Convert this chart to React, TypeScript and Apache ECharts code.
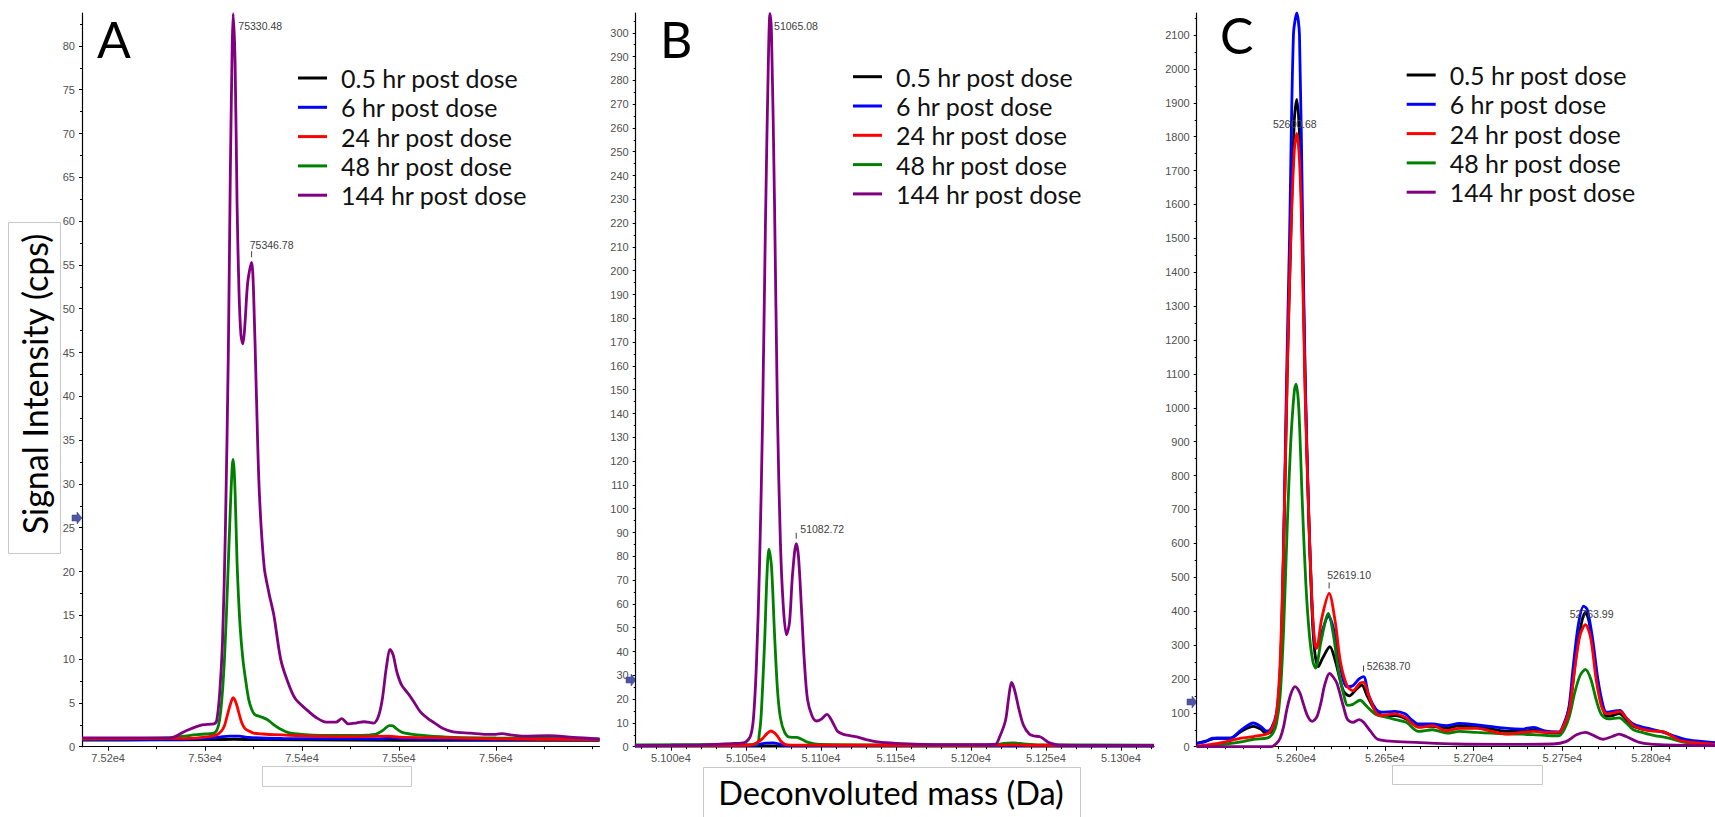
import React, { useEffect, useRef } from "react";
import * as echarts from "echarts";

const SERIES_NAMES = ["0.5 hr post dose", "6 hr post dose", "24 hr post dose", "48 hr post dose", "144 hr post dose"];
const SERIES_COLORS = ["#000000", "#0000ff", "#ff0000", "#008000", "#800080"];

// ---------- Panel A ----------
const A_X_LABELS = [75200, 75300, 75400, 75500, 75600];
const A_X_MINOR = [75200, 75250, 75300, 75350, 75400, 75450, 75500, 75550, 75600, 75650, 75700];
const A_Y_LABELS = [0, 5, 10, 15, 20, 25, 30, 35, 40, 45, 50, 55, 60, 65, 70, 75, 80];
const A_05 = [[75173, 0.75], [75250, 0.78], [75300, 0.8], [75330, 0.85], [75360, 0.8], [75450, 0.75], [75550, 0.72], [75707, 0.72]];
const A_6 = [[75173, 0.8], [75280, 0.85], [75300, 0.95], [75315, 1.1], [75325, 1.2], [75335, 1.2], [75345, 1.05], [75380, 0.95], [75480, 0.9], [75493, 1.0], [75505, 0.9], [75600, 0.82], [75707, 0.78]];
const A_24 = [[75173, 0.9], [75280, 0.95], [75300, 1.1], [75312, 1.35], [75317, 1.8], [75320, 2.4], [75323, 3.6], [75326, 4.8], [75329, 5.6], [75332, 5.0], [75335, 3.8], [75338, 2.7], [75341, 2.1], [75345, 1.8], [75350, 1.55], [75360, 1.45], [75371, 1.37], [75400, 1.25], [75450, 1.15], [75490, 1.2], [75500, 1.1], [75550, 1.0], [75600, 0.9], [75707, 0.8]];
const A_48 = [[75173, 0.9], [75260, 1.0], [75285, 1.3], [75300, 1.45], [75310, 1.6], [75314, 2.5], [75317, 5], [75320, 10], [75323, 18], [75326, 27], [75328, 32], [75329, 32.8], [75331, 29], [75333, 21], [75336, 14], [75339, 10], [75342, 7.5], [75345, 5.4], [75348, 4.3], [75351, 3.7], [75358, 3.4], [75364, 3.1], [75371, 2.5], [75378, 2.0], [75386, 1.6], [75400, 1.4], [75420, 1.3], [75460, 1.3], [75475, 1.4], [75484, 1.9], [75490, 2.4], [75493, 2.4], [75498, 2.0], [75504, 1.6], [75519, 1.35], [75550, 1.1], [75600, 1.0], [75650, 0.95], [75707, 0.85]];
const A_144 = [[75173, 1.0], [75230, 1.0], [75264, 1.0], [75280, 1.8], [75297, 2.5], [75309, 2.6], [75312, 3], [75315, 6], [75318, 12], [75321, 25], [75324, 45], [75326, 65], [75328, 80], [75329, 83.7], [75331, 78], [75333, 62], [75335, 52], [75337, 47], [75339, 46], [75341, 48], [75344, 53], [75348, 55.3], [75350, 52], [75353, 40], [75356, 29], [75361, 20.5], [75366, 17.5], [75371, 15], [75378, 10], [75385, 7.5], [75393, 5.5], [75405, 4.2], [75415, 3.3], [75425, 2.8], [75435, 2.8], [75441, 3.2], [75448, 2.6], [75456, 2.7], [75464, 2.85], [75474, 2.7], [75479, 3.5], [75483, 5.5], [75487, 9], [75491, 11.1], [75494, 10.5], [75498, 8.5], [75503, 7], [75510, 6], [75515, 5.2], [75522, 4], [75530, 3.2], [75537, 2.7], [75545, 2.1], [75556, 1.7], [75574, 1.55], [75590, 1.4], [75600, 1.4], [75607, 1.5], [75615, 1.35], [75629, 1.2], [75655, 1.25], [75680, 1.05], [75707, 0.9]];

// ---------- Panel B ----------
const B_X_LABELS = [51000, 51050, 51100, 51150, 51200, 51250, 51300];
const B_X_MINOR = [50980, 50990, 51000, 51010, 51020, 51030, 51040, 51050, 51060, 51070, 51080, 51090, 51100, 51110, 51120, 51130, 51140, 51150, 51160, 51170, 51180, 51190, 51200, 51210, 51220, 51230, 51240, 51250, 51260, 51270, 51280, 51290, 51300, 51310, 51320];
const B_Y_LABELS = [0, 10, 20, 30, 40, 50, 60, 70, 80, 90, 100, 110, 120, 130, 140, 150, 160, 170, 180, 190, 200, 210, 220, 230, 240, 250, 260, 270, 280, 290, 300];
const B_05 = [[50976, 0.3], [51100, 0.3], [51200, 0.3], [51322, 0.3]];
const B_6 = [[50976, 0.4], [51055, 0.45], [51059, 1.0], [51063, 1.5], [51068, 1.6], [51072, 1.2], [51076, 0.5], [51322, 0.4]];
const B_24 = [[50976, 0.5], [51050, 0.6], [51055, 1.0], [51058, 2.0], [51061, 3.4], [51064, 5.5], [51066.6, 6.6], [51069, 5.8], [51071, 4.4], [51073.5, 2.2], [51076, 1.0], [51080, 0.7], [51200, 0.6], [51228, 0.8], [51240, 0.6], [51322, 0.5]];
const B_48 = [[50976, 0.8], [51040, 0.9], [51057, 1.0], [51059, 6], [51060, 12], [51061, 24], [51062.5, 45], [51064, 72], [51065.3, 83], [51067, 76], [51069, 48], [51071, 24], [51073, 12], [51075.8, 6], [51079, 4], [51084, 3.9], [51088, 2.8], [51092, 1.7], [51099, 1.0], [51150, 0.8], [51215, 0.8], [51222, 1.4], [51228, 1.6], [51235, 1.2], [51245, 0.8], [51322, 0.7]];
const B_144 = [[50976, 0.5], [51000, 0.6], [51020, 0.8], [51030, 1.0], [51040, 1.3], [51049, 1.7], [51053, 4.5], [51055, 12], [51057, 35], [51059, 75], [51061, 135], [51063, 220], [51065, 290], [51066, 308], [51067, 300], [51069, 230], [51071, 140], [51073, 85], [51075, 58], [51077, 47], [51079, 52], [51081, 72], [51083.5, 85.3], [51085, 80], [51087, 58], [51089, 35], [51091, 20], [51094, 13], [51097, 10.8], [51100, 11.5], [51104, 13.6], [51108, 10], [51111, 6.5], [51115, 5.2], [51120, 4.6], [51124, 4.1], [51130, 3.0], [51138, 2.0], [51150, 1.4], [51167, 1.0], [51190, 0.9], [51216, 1.0], [51219, 4], [51223, 11], [51225, 20], [51227, 27], [51229, 24], [51232, 15.7], [51235, 9], [51239, 5.2], [51242, 4.5], [51246, 4.2], [51249, 3], [51252, 1.7], [51259, 0.6], [51280, 0.5], [51322, 0.5]];

// ---------- Panel C ----------
const C_X_LABELS = [52600, 52650, 52700, 52750, 52800];
const C_X_MINOR = [52550, 52560, 52570, 52580, 52590, 52600, 52610, 52620, 52630, 52640, 52650, 52660, 52670, 52680, 52690, 52700, 52710, 52720, 52730, 52740, 52750, 52760, 52770, 52780, 52790, 52800, 52810, 52820, 52830];
const C_Y_LABELS = [0, 100, 200, 300, 400, 500, 600, 700, 800, 900, 1000, 1100, 1200, 1300, 1400, 1500, 1600, 1700, 1800, 1900, 2000, 2100];
const C_05 = [[52544, 10], [52550, 18], [52555, 25], [52563, 25], [52569, 45], [52576, 60], [52580, 52], [52583, 39], [52586, 44], [52589, 90], [52591, 200], [52593, 600], [52595, 1100], [52597, 1500], [52599, 1850], [52600.4, 1910], [52602, 1800], [52603.5, 1500], [52605.2, 1050], [52607, 700], [52609, 400], [52610.5, 280], [52612.5, 236], [52615, 262], [52619, 295], [52622, 255], [52626.6, 165], [52630, 150], [52634, 170], [52637, 182], [52640, 150], [52645, 105], [52650, 92], [52656, 92], [52662, 82], [52669, 60], [52677, 60], [52685, 55], [52692, 62], [52702, 58], [52710, 52], [52719, 45], [52727, 45], [52735, 50], [52741, 42], [52748, 40], [52752, 80], [52755, 150], [52758, 280], [52761, 370], [52763, 396], [52765, 370], [52768, 260], [52771, 160], [52775, 90], [52778, 92], [52782, 98], [52786, 80], [52790, 60], [52795, 52], [52800, 48], [52807, 44], [52813, 30], [52820, 18], [52836, 8]];
const C_6 = [[52544, 10], [52549, 15], [52553, 25], [52563, 25], [52569, 49], [52576, 70], [52580, 60], [52583.5, 46], [52586, 54], [52589, 100], [52591, 220], [52592.5, 450], [52594.5, 1050], [52596.3, 1500], [52598.5, 2100], [52600.4, 2165], [52601.9, 2100], [52603.8, 1500], [52605.1, 1100], [52606.5, 800], [52608, 550], [52610, 320], [52611.5, 292], [52614, 330], [52618.2, 385], [52621, 350], [52624, 260], [52628.6, 177], [52632, 180], [52635.5, 200], [52638, 207], [52641, 150], [52645, 110], [52648, 102], [52655.6, 104], [52661.4, 97], [52665, 80], [52669, 67], [52677, 67], [52684.5, 62], [52692, 69], [52702, 64], [52709, 60], [52719, 54], [52727, 52], [52734, 57], [52740, 47], [52748, 44], [52751, 70], [52753.6, 112], [52756, 230], [52759, 360], [52762, 415], [52764, 405], [52767, 320], [52770, 200], [52773, 120], [52775, 102], [52779, 105], [52782.4, 107], [52786, 85], [52790, 67], [52795, 58], [52800, 52], [52807, 42], [52814, 30], [52821, 20], [52836, 12]];
const C_24 = [[52544, 2], [52556, 10], [52569, 25], [52576, 30], [52584, 39], [52587, 60], [52589, 100], [52591, 250], [52593, 600], [52595, 1100], [52597, 1500], [52599, 1760], [52600.4, 1810], [52602, 1720], [52603.3, 1500], [52605, 1060], [52607, 700], [52609, 420], [52610.5, 310], [52611.5, 290], [52614.5, 380], [52618.6, 452], [52622, 370], [52625, 250], [52628.7, 180], [52632, 165], [52636, 188], [52638, 190], [52641, 150], [52645, 100], [52648, 92], [52655.6, 97], [52661.4, 87], [52665, 70], [52669, 57], [52677, 62], [52684.5, 47], [52692, 54], [52702, 54], [52709, 47], [52719, 37], [52727, 42], [52734, 45], [52740, 42], [52748, 42], [52751, 65], [52754, 110], [52757, 230], [52760, 330], [52763, 360], [52766, 320], [52769, 200], [52772, 120], [52775, 97], [52779, 100], [52782.4, 104], [52786, 85], [52790, 62], [52795, 52], [52800, 47], [52807, 44], [52812, 30], [52817, 17], [52836, 7]];
const C_48 = [[52544, 0], [52560, 8], [52570, 15], [52576, 22], [52584, 26], [52587, 40], [52589, 70], [52591, 150], [52593, 350], [52595, 650], [52597, 900], [52599, 1050], [52600, 1070], [52601.5, 1000], [52603.5, 720], [52605.5, 480], [52607.5, 330], [52609.5, 250], [52611, 232], [52614, 310], [52618.2, 393], [52621, 330], [52624, 220], [52627, 150], [52629, 122], [52632, 125], [52636, 137], [52640, 118], [52645, 95], [52650, 88], [52656, 80], [52662, 72], [52669, 45], [52677, 50], [52685, 40], [52692, 45], [52702, 42], [52710, 40], [52719, 38], [52727, 37], [52735, 35], [52742, 33], [52748, 32], [52751, 50], [52754, 90], [52757, 160], [52760, 210], [52763, 228], [52766, 200], [52769, 140], [52772, 95], [52776, 82], [52782, 85], [52786, 70], [52790, 50], [52795, 42], [52800, 35], [52810, 25], [52820, 12], [52836, 5]];
const C_144 = [[52544, 0], [52586, 0], [52589, 10], [52591, 25], [52593, 60], [52594.7, 108], [52597, 155], [52599.4, 177], [52602, 160], [52604, 128], [52606.5, 90], [52609, 75], [52611.7, 88], [52614, 130], [52616, 180], [52618.8, 216], [52621, 205], [52623, 187], [52626.7, 118], [52629, 80], [52632, 72], [52635.5, 80], [52638, 72], [52642, 45], [52646, 22], [52655, 16], [52670, 12], [52690, 8], [52720, 7], [52745, 8], [52752, 15], [52758, 35], [52763, 42], [52768, 32], [52773, 22], [52778, 30], [52782, 37], [52786, 30], [52794, 12], [52805, 6], [52836, 3]];

// peak annotations: [panel, seriesIndex, x, y, text, dx, dy, tick]
const PEAK_LABELS: [number, number, number, number, string, number, number, boolean][] = [
  [0, 4, 75329, 83.7, "75330.48", 27, 12, false],
  [0, 4, 75348, 55.3, "75346.78", 20, -17, true],
  [1, 4, 51066, 308, "51065.08", 26, 12, false],
  [1, 4, 51083.5, 85.3, "51082.72", 26, -15, true],
  [2, 0, 52600.4, 1910, "52600.68", -2, 25, false],
  [2, 2, 52618.6, 452, "52619.10", 20, -19, true],
  [2, 1, 52638, 207, "52638.70", 25, -11, true],
  [2, 1, 52762, 415, "52763.99", 8, 8, false],
];

const PANELS = [
  { xMin: 75173, xMax: 75707, yMax: 83.76, xLabels: A_X_LABELS, xMinor: A_X_MINOR, yLabels: A_Y_LABELS, yStep: 5, digits: 2, data: [A_05, A_6, A_24, A_48, A_144] },
  { xMin: 50976.5, xMax: 51322, yMax: 308.3, xLabels: B_X_LABELS, xMinor: B_X_MINOR, yLabels: B_Y_LABELS, yStep: 10, digits: 3, data: [B_05, B_6, B_24, B_48, B_144] },
  { xMin: 52544, xMax: 52836, yMax: 2165, xLabels: C_X_LABELS, xMinor: C_X_MINOR, yLabels: C_Y_LABELS, yStep: 100, digits: 3, data: [C_05, C_6, C_24, C_48, C_144] },
];

const GRIDS = [
  { left: 82, top: 13, width: 517.5, height: 733.7 },
  { left: 635.7, top: 13, width: 518.3, height: 733.7 },
  { left: 1196.7, top: 13, width: 518.3, height: 733.7 },
];
const LEGEND_POS = [
  { left: 298, top: 65.5 },
  { left: 853, top: 64.2 },
  { left: 1406.7, top: 62.5 },
];
const PANEL_LETTERS = [
  { text: "A", x: 97, y: 14 },
  { text: "B", x: 660, y: 14 },
  { text: "C", x: 1220, y: 10 },
];
const ARROWS = [
  { x: 73, y: 518 },
  { x: 627, y: 680 },
  { x: 1188, y: 702 },
];

const DRAW_ORDER = [0, 1, 3, 2, 4];
const TICK_FONT = "'Liberation Sans', Arial, sans-serif";
const TEXT_FONT = "Lato, 'Open Sans', sans-serif";

export default function App() {
  const ref = useRef<HTMLDivElement>(null);
  useEffect(() => {
    document.body.style.margin = "0";
    const chart = echarts.init(ref.current!, null, { renderer: "svg" });
    const xAxis: any[] = [];
    const yAxis: any[] = [];
    const series: any[] = [];
    PANELS.forEach((p, i) => {
      const yMinor: number[] = [];
      for (let k = 0; k < p.yLabels.length; k++) yMinor.push(p.yLabels[k] + p.yStep / 2);
      xAxis.push({
        type: "value", gridIndex: i, position: "bottom", min: p.xMin, max: p.xMax,
        axisLine: { show: true, onZero: false, lineStyle: { color: "#000", width: 1.2 } },
        axisTick: { show: true, customValues: p.xLabels, length: 4, lineStyle: { color: "#000" } },
        axisLabel: { show: true, customValues: p.xLabels, formatter: (v: number) => (v / 1e4).toFixed(p.digits) + "e4", fontSize: 11, color: "#505050", fontFamily: TICK_FONT, margin: 6 },
        splitLine: { show: false },
      });
      xAxis.push({
        type: "value", gridIndex: i, position: "bottom", min: p.xMin, max: p.xMax,
        axisLine: { show: false, onZero: false },
        axisTick: { show: true, customValues: p.xMinor, length: 2.5, lineStyle: { color: "#000" } },
        axisLabel: { show: false },
        splitLine: { show: false },
      });
      yAxis.push({
        type: "value", gridIndex: i, position: "left", min: 0, max: p.yMax,
        axisLine: { show: true, onZero: false, lineStyle: { color: "#000", width: 1.2 } },
        axisTick: { show: true, customValues: p.yLabels, length: 3, lineStyle: { color: "#000" } },
        axisLabel: { show: true, customValues: p.yLabels, formatter: (v: number) => String(v), fontSize: 11, color: "#505050", fontFamily: TICK_FONT, margin: 7 },
        splitLine: { show: false },
      });
      yAxis.push({
        type: "value", gridIndex: i, position: "left", min: 0, max: p.yMax,
        axisLine: { show: false, onZero: false },
        axisTick: { show: true, customValues: yMinor.filter((v) => v < p.yMax), length: 2, lineStyle: { color: "#000" } },
        axisLabel: { show: false },
        splitLine: { show: false },
      });
      DRAW_ORDER.forEach((s, order) => {
        const marks = PEAK_LABELS.filter((l) => l[0] === i && l[1] === s);
        const mpData: any[] = [];
        marks.forEach((m) => {
          mpData.push({
            coord: [m[2], m[3]], symbol: "circle", symbolSize: 1,
            itemStyle: { color: "rgba(0,0,0,0)" },
            label: { show: true, formatter: m[4], position: "inside", offset: [m[5], m[6]], fontSize: 10.5, color: "#404040", fontFamily: TICK_FONT },
          });
          if (m[7]) {
            mpData.push({
              coord: [m[2], m[3]], symbol: "rect", symbolSize: [1, 6], symbolOffset: [0, -8],
              itemStyle: { color: "#404040" }, label: { show: false },
            });
          }
        });
        series.push({
          type: "line", name: SERIES_NAMES[s], xAxisIndex: i * 2, yAxisIndex: i * 2,
          data: p.data[s], showSymbol: false, symbol: "none", smooth: 0.3,
          lineStyle: { width: 2.8, color: SERIES_COLORS[s] }, itemStyle: { color: SERIES_COLORS[s] },
          z: 2 + order, silent: true,
          markPoint: mpData.length ? { silent: true, data: mpData, animation: false } : undefined,
        });
      });
    });

    const graphic: any[] = [];
    PANEL_LETTERS.forEach((l) => {
      graphic.push({ type: "text", left: l.x, top: l.y, style: { text: l.text, font: `50px ${TEXT_FONT}`, fill: "#000" } });
    });
    ARROWS.forEach((a) => {
      graphic.push({
        type: "polygon",
        shape: { points: [[a.x - 1, a.y - 3], [a.x + 4, a.y - 3], [a.x + 4, a.y - 6], [a.x + 9, a.y], [a.x + 4, a.y + 6], [a.x + 4, a.y + 3], [a.x - 1, a.y + 3]] },
        style: { fill: "#4f56a6", stroke: "#3a3f80", lineWidth: 0.5 },
      });
    });
    graphic.push({ type: "rect", shape: { x: 8.5, y: 222.5, width: 52, height: 331 }, style: { fill: "#fff", stroke: "#c8c8c8", lineWidth: 1 } });
    graphic.push({
      type: "text", x: 34, y: 384, rotation: Math.PI / 2,
      style: { text: "Signal Intensity (cps)", font: `34px ${TEXT_FONT}`, fill: "#000", align: "center", verticalAlign: "middle" },
    });
    graphic.push({ type: "rect", shape: { x: 703.5, y: 767.5, width: 377, height: 60 }, style: { fill: "#fff", stroke: "#c8c8c8", lineWidth: 1 } });
    graphic.push({
      type: "text", x: 891, y: 792,
      style: { text: "Deconvoluted mass (Da)", font: `32.5px ${TEXT_FONT}`, fill: "#000", align: "center", verticalAlign: "middle" },
    });
    graphic.push({ type: "rect", shape: { x: 262.5, y: 766.5, width: 149, height: 20 }, style: { fill: "#fff", stroke: "#c8c8c8", lineWidth: 1 } });
    graphic.push({ type: "rect", shape: { x: 1392.5, y: 765.5, width: 150, height: 19 }, style: { fill: "#fff", stroke: "#c8c8c8", lineWidth: 1 } });

    chart.setOption({
      animation: false,
      backgroundColor: "#fff",
      grid: GRIDS.map((g) => ({ ...g, containLabel: false })),
      xAxis, yAxis, series, graphic,
      legend: LEGEND_POS.map((lp) => ({
        data: SERIES_NAMES, left: lp.left, top: lp.top, orient: "vertical", icon: "rect",
        itemWidth: 29, itemHeight: 3, itemGap: 4.3, selectedMode: false, padding: 0,
        textStyle: { fontSize: 25, fontFamily: TEXT_FONT, color: "#111", padding: [0, 0, 0, 9], lineHeight: 25 },
      })),
    });
    return () => chart.dispose();
  }, []);
  return <div ref={ref} style={{ width: 1715, height: 817 }} />;
}
